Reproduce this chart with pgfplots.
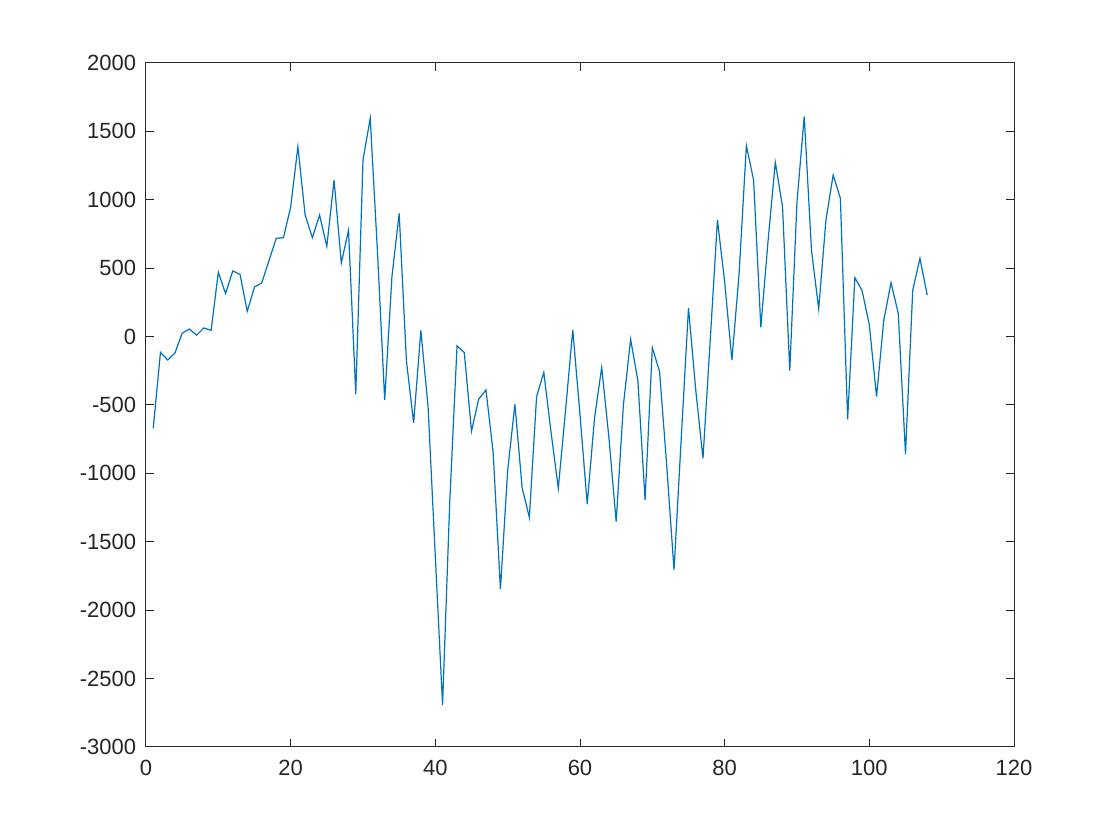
\documentclass[border=0pt]{standalone}
\usepackage{pgfplots}
\pgfplotsset{compat=1.18}
\usepackage{fontspec}
\setmainfont{Liberation Sans}
\definecolor{mblue}{RGB}{0,114,189}
\definecolor{axgray}{RGB}{38,38,38}
\begin{document}
\begin{tikzpicture}
\path (-73pt,-46.5pt) rectangle ++(560pt,420pt);
\begin{axis}[
  at={(0,0)}, anchor=south west,
  scale only axis, width=434pt, height=342pt,
  xmin=0, xmax=120, ymin=-3000, ymax=2000,
  xtick={0,20,...,120},
  ytick={-3000,-2500,...,2000},
  tick align=inside,
  major tick length=4pt,
  axis line style={axgray, line width=0.5pt},
  every tick/.style={axgray, line width=0.5pt},
  tick label style={font=\fontsize{11}{13}\selectfont, text=axgray},
  /pgf/number format/assume math mode=true,
  /pgf/number format/1000 sep={},
  xticklabel style={yshift=-3.2pt},
  yticklabel style={xshift=-1.4pt},
  scaled y ticks=false,
]
\addplot[mblue, line width=0.6pt, mark=none] coordinates {
(1,-670) (2,-115) (3,-171) (4,-120) (5,25) (6,55) (7,10) (8,63) (9,45) (10,470)
(11,315) (12,480) (13,455) (14,185) (15,363) (16,392) (17,555) (18,718) (19,723) (20,946)
(21,1388) (22,888) (23,723) (24,888) (25,660) (26,1144) (27,538) (28,777) (29,-420) (30,1291)
(31,1596) (32,620) (33,-463) (34,438) (35,901) (36,-175) (37,-631) (38,45) (39,-515) (40,-1610)
(41,-2692) (42,-1200) (43,-68) (44,-116) (45,-691) (46,-457) (47,-389) (48,-850) (49,-1847) (50,-980)
(51,-495) (52,-1105) (53,-1322) (54,-438) (55,-262) (56,-700) (57,-1109) (58,-540) (59,48) (60,-570)
(61,-1224) (62,-600) (63,-225) (64,-740) (65,-1353) (66,-500) (67,-20) (68,-322) (69,-1194) (70,-81)
(71,-256) (72,-950) (73,-1706) (74,-740) (75,210) (76,-390) (77,-890) (78,-30) (79,852) (80,400)
(81,-171) (82,463) (83,1396) (84,1145) (85,68) (86,700) (87,1274) (88,950) (89,-249) (90,986)
(91,1610) (92,633) (93,202) (94,852) (95,1181) (96,1011) (97,-605) (98,431) (99,336) (100,85)
(101,-439) (102,121) (103,394) (104,170) (105,-858) (106,340) (107,572) (108,304)
};
\end{axis}
\end{tikzpicture}
\end{document}
